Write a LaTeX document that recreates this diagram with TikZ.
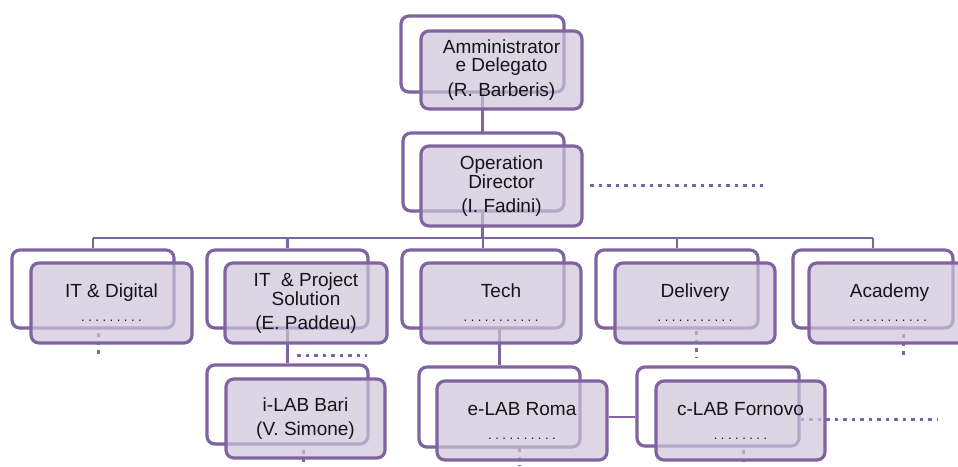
\documentclass[tikz,border=0pt]{standalone}
\usepackage{fontspec}
\setmainfont{Liberation Sans}
\usetikzlibrary{shadows}
\definecolor{purp}{RGB}{128,100,162}
\definecolor{lav}{RGB}{206,196,216}
\definecolor{txt}{RGB}{20,20,25}
\pgfdeclarelayer{bg}
\pgfsetlayers{bg,main}
\newcommand\dotrow[1]{{\fontsize{13}{13}\selectfont\foreach \k in {1,...,#1}{.\kern3.5pt}\kern-3.5pt}}
\tikzset{
 backbox/.style={draw=purp, line width=3.2pt, fill=white, rounded corners=8pt, inner sep=0pt,
   drop shadow={shadow xshift=-1.5pt, shadow yshift=-1.5pt, opacity=0.25}},
 frontbox/.style={draw=purp, line width=3.2pt, fill=lav, fill opacity=0.7, text opacity=1, draw opacity=1,
   rounded corners=8pt, inner sep=0pt, align=center, text=txt, font=\fontsize{19}{17.5}\selectfont},
 link/.style={draw=purp, line width=2.6pt},
 dotline/.style={draw=purp, line width=3pt, dash pattern=on 3.5pt off 5pt},
}
\begin{document}
\begin{tikzpicture}[x=1pt,y=-1pt]
\useasboundingbox (0,0) rectangle (958,466);
% level 0
\node[backbox, minimum width=163pt, minimum height=76pt] (ceoB) at (482.5,54) {};
\node[frontbox, minimum width=161pt, minimum height=78pt] (ceoF) at (501.5,70) {Amministrator\\e Delegato\\[6.5pt](R. Barberis)};
% level 1
\node[backbox, minimum width=161pt, minimum height=78pt] (opB) at (483.5,172) {};
\node[frontbox, minimum width=161pt, minimum height=80pt] (opF) at (501.5,186) {Operation\\Director\\[6.5pt](I. Fadini)};
% level 2
\node[backbox, minimum width=162pt, minimum height=78pt] (itB) at (93,289) {};
\node[frontbox, minimum width=161pt, minimum height=80pt] (itF) at (111.5,303) {IT \& Digital\\[6.5pt]\dotrow{9}};
\node[backbox, minimum width=161pt, minimum height=78pt] (ipB) at (287.5,289) {};
\node[frontbox, minimum width=162pt, minimum height=80pt] (ipF) at (306,303) {IT\ \ \& Project\\Solution\\[6.5pt](E. Paddeu)};
\node[backbox, minimum width=162pt, minimum height=78pt] (tcB) at (483,289) {};
\node[frontbox, minimum width=160pt, minimum height=80pt] (tcF) at (501,303) {Tech\\[6.5pt]\dotrow{11}};
\node[backbox, minimum width=162pt, minimum height=78pt] (dvB) at (677,289) {};
\node[frontbox, minimum width=160pt, minimum height=80pt] (dvF) at (695,303) {Delivery\\[6.5pt]\dotrow{11}};
\node[backbox, minimum width=160pt, minimum height=78pt] (acB) at (873,289) {};
\node[frontbox, minimum width=161pt, minimum height=80pt] (acF) at (889.5,303) {Academy\\[6.5pt]\dotrow{11}};
% level 3
\node[backbox, minimum width=161pt, minimum height=79pt] (ilB) at (287.5,404.5) {};
\node[frontbox, minimum width=159pt, minimum height=79pt] (ilF) at (305.5,418.5) {i-LAB Bari\\[6.5pt](V. Simone)};
\node[backbox, minimum width=161pt, minimum height=80pt] (elB) at (499.5,407) {};
\node[frontbox, minimum width=170pt, minimum height=79pt] (elF) at (522,420.5) {e-LAB Roma\\[6.5pt]\dotrow{10}};
\node[backbox, minimum width=162pt, minimum height=79pt] (clB) at (718,406.5) {};
\node[frontbox, minimum width=169pt, minimum height=79pt] (clF) at (740.5,420.5) {c-LAB Fornovo\\[6.5pt]\dotrow{8}};
\begin{pgfonlayer}{bg}
\coordinate (busy) at (0,238);
\draw[link] (ceoB.center) -- (ceoB.center |- busy);
\draw[link] (itB.center |- busy) -- (acB.center |- busy);
\foreach \n in {itB,ipB,tcB,dvB,acB} \draw[link] (\n.center |- busy) -- (\n.north);
\draw[link] (ipB.center) -- (ilB.north);
\draw[link] (elB.north |- tcB.center) -- (elB.north);
\coordinate (hy) at (0,417);
\draw[link] (elF.east |- hy) -- (clB.west |- hy);
% dotted continuations
\coordinate (opD1) at (590,185);
\coordinate (opD2) at (763,185);
\draw[dotline] (opD1) -- (opD2);
\coordinate (ipD1) at (297,355);
\coordinate (ipD2) at (367,355);
\draw[dotline] (ipD1) -- (ipD2);
\coordinate (clD) at (937,419);
\draw[dotline] (clB.east |- clD) -- (clD);
\coordinate (itD1) at (98,333);
\coordinate (itD2) at (98,358);
\draw[dotline] (itD1) -- (itD2);
\coordinate (dvD1) at (696,331);
\coordinate (dvD2) at (696,357);
\draw[dotline] (dvD1) -- (dvD2);
\coordinate (acD1) at (903,334);
\coordinate (acD2) at (903,357);
\draw[dotline] (acD1) -- (acD2);
\coordinate (ilD1) at (303,450);
\coordinate (ilD2) at (303,466);
\draw[dotline] (ilD1) -- (ilD2);
\coordinate (elD1) at (519,448);
\coordinate (elD2) at (519,466);
\draw[dotline] (elD1) -- (elD2);
\coordinate (clD1) at (743,450);
\coordinate (clD2) at (743,466);
\draw[dotline] (clD1) -- (clD2);
\end{pgfonlayer}
\end{tikzpicture}
\end{document}
